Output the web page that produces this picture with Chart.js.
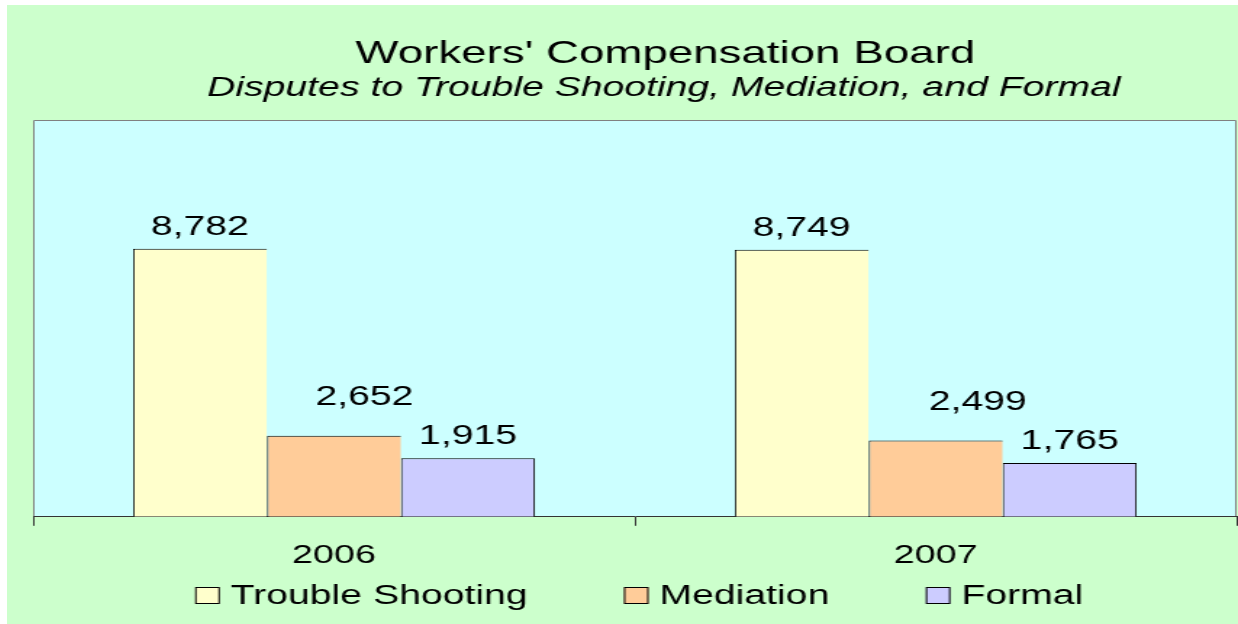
<!DOCTYPE html>
<html lang="en">
<head>
    <meta charset="UTF-8">
    <title>Workers' Compensation Board</title>
    <script src="https://cdn.jsdelivr.net/npm/chart.js"></script>
    <style>
        body { margin: 0; background: #ffffff; }
        #wrap {
            position: absolute; left: 7px; top: 5px;
            width: 1231px; height: 619px;
            background: #CCFFCC; overflow: hidden;
        }
        /* the original chart is stretched sideways, so the canvas is too */
        #myChart { transform: scaleX(1.44994); transform-origin: 0 0; }
    </style>
</head>
<body>
    <div id="wrap">
        <canvas id="myChart" width="849" height="619"></canvas>
    </div>

    <script>
        const categories = ['2006', '2007'];
        const seriesNames = ['Trouble Shooting', 'Mediation', 'Formal'];
        const troubleShooting = [8782, 8749];
        const mediation = [2652, 2499];
        const formal = [1915, 1765];
        const yMax = 13000;

        const titleText = "Workers' Compensation Board";
        const subtitleText = 'Disputes to Trouble Shooting, Mediation, and Formal';

        const FONT = '"Liberation Sans", Arial, sans-serif';
        const colors = ['#FFFFCC', '#FFCC99', '#CCCCFF'];

        // plot area fill + grey frame
        const plotBackground = {
            id: 'plotBackground',
            beforeDraw(chart) {
                const { ctx, chartArea: a } = chart;
                ctx.save();
                ctx.fillStyle = '#CCFFFF';
                ctx.fillRect(a.left, a.top, a.right - a.left, a.bottom - a.top);
                ctx.strokeStyle = '#808080';
                ctx.lineWidth = 1;
                ctx.beginPath();
                ctx.moveTo(a.left + 0.5, a.bottom);
                ctx.lineTo(a.left + 0.5, a.top + 0.5);
                ctx.lineTo(a.right - 0.5, a.top + 0.5);
                ctx.lineTo(a.right - 0.5, a.bottom);
                ctx.stroke();
                ctx.restore();
            }
        };

        // numbers above the bars (the middle series' labels sit higher and to the right)
        const valueLabels = {
            id: 'valueLabels',
            afterDatasetsDraw(chart) {
                const ctx = chart.ctx;
                ctx.save();
                ctx.font = '27px ' + FONT;
                ctx.fillStyle = '#000';
                ctx.textAlign = 'center';
                ctx.textBaseline = 'alphabetic';
                chart.data.datasets.forEach((ds, i) => {
                    chart.getDatasetMeta(i).data.forEach((bar, j) => {
                        let dx = 0, dy = 14;
                        if (i === 1) { dx = j === 0 ? 21 : 29; dy = 31; }
                        ctx.fillText(ds.data[j].toLocaleString('en-US'), bar.x + dx, bar.y - dy);
                    });
                });
                ctx.restore();
            }
        };

        // title + italic subtitle
        const titles = {
            id: 'titles',
            afterDraw(chart) {
                const ctx = chart.ctx;
                const cx = (chart.chartArea.left + chart.chartArea.right) / 2 + 21;
                ctx.save();
                ctx.fillStyle = '#000';
                ctx.textAlign = 'center';
                ctx.textBaseline = 'alphabetic';
                ctx.font = '31.5px ' + FONT;
                ctx.fillText(titleText, cx, 58);
                ctx.font = 'italic 27px ' + FONT;
                ctx.fillText(subtitleText, cx - 1, 91);
                ctx.restore();
            }
        };

        // legend row under the axis labels
        const bottomLegend = {
            id: 'bottomLegend',
            afterDraw(chart) {
                const ctx = chart.ctx;
                const boxW = 17, boxH = 17, gap = 7.6, spacing = 66.5;
                ctx.save();
                ctx.font = '27px ' + FONT;
                const widths = seriesNames.map(n => boxW + gap + ctx.measureText(n).width);
                const total = widths.reduce((s, w) => s + w, 0) + spacing * (widths.length - 1);
                let x = (chart.chartArea.left + chart.chartArea.right) / 2 + 3 - total / 2;
                const baseline = 599;
                seriesNames.forEach((name, i) => {
                    ctx.fillStyle = colors[i];
                    ctx.fillRect(x, baseline - boxH, boxW, boxH);
                    ctx.strokeStyle = '#000';
                    ctx.lineWidth = 1;
                    ctx.strokeRect(x + 0.5, baseline - boxH + 0.5, boxW - 1, boxH - 1);
                    ctx.fillStyle = '#000';
                    ctx.textAlign = 'left';
                    ctx.textBaseline = 'alphabetic';
                    ctx.fillText(name, x + boxW + gap, baseline);
                    x += widths[i] + spacing;
                });
                ctx.restore();
            }
        };

        const values = [troubleShooting, mediation, formal];
        const ctx = document.getElementById('myChart').getContext('2d');
        const myChart = new Chart(ctx, {
            type: 'bar',
            data: {
                labels: categories,
                datasets: seriesNames.map((name, i) => ({
                    label: name,
                    data: values[i],
                    backgroundColor: colors[i],
                    borderColor: '#000',
                    borderWidth: { top: 1, left: 1, right: i === 2 ? 1 : 0, bottom: 0 },
                    borderSkipped: false,
                    categoryPercentage: 0.668,
                    barPercentage: 1
                }))
            },
            options: {
                responsive: false,
                animation: false,
                devicePixelRatio: 1,
                layout: { padding: { left: 18, right: 1, top: 115, bottom: 39 } },
                plugins: {
                    legend: { display: false },
                    title: { display: false },
                    tooltip: { enabled: false }
                },
                scales: {
                    x: {
                        grid: {
                            display: true,
                            drawOnChartArea: false,
                            drawTicks: true,
                            tickLength: 9,
                            color: '#333'
                        },
                        border: { display: true, color: '#333', width: 1 },
                        ticks: {
                            color: '#000',
                            padding: 14,
                            font: { family: FONT, size: 26 }
                        }
                    },
                    y: {
                        display: false,
                        min: 0,
                        max: yMax
                    }
                }
            },
            plugins: [plotBackground, valueLabels, titles, bottomLegend]
        });
    </script>
</body>
</html>
